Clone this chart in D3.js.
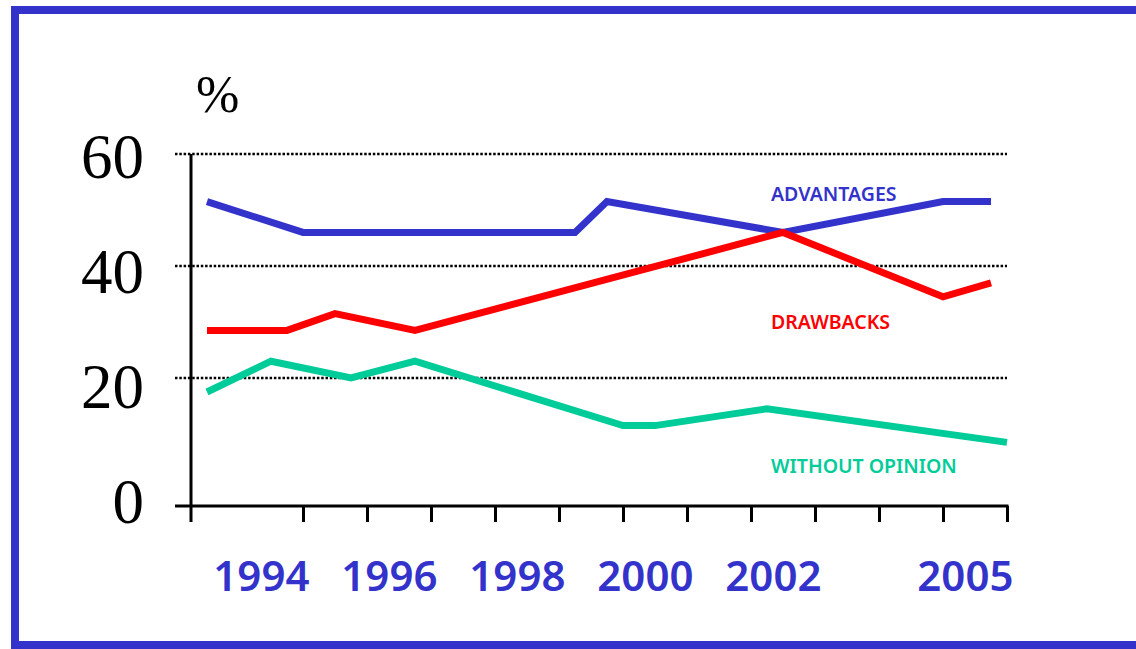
<!DOCTYPE html>
<html>
<head>
<meta charset="utf-8">
<script src="https://cdn.jsdelivr.net/npm/d3@7"></script>
<style>
  body { margin: 0; background: #fff; }
  svg { display: block; }
</style>
</head>
<body>
<svg width="1136" height="649"></svg>
<script>
// Survey dates (decimal years) and % values for each series
var advYears = [1993.25, 1994.75, 1999.0, 1999.5, 2002.25, 2004.75, 2005.5];
var advValues = [51.5, 46, 46, 51.5, 46, 51.5, 51.5];

var drwYears = [1993.25, 1994.5, 1995.25, 1996.5, 2002.25, 2004.75, 2005.5];
var drwValues = [28.5, 28.5, 31.5, 28.5, 46, 34.5, 37];

var wopYears = [1993.25, 1994.25, 1995.5, 1996.5, 1999.75, 2000.25, 2002.0, 2005.75];
var wopValues = [17.5, 23, 20, 23, 11.5, 11.5, 14.5, 8.5];

var yTicks = [0, 20, 40, 60];
var xLabels = ["1994", "1996", "1998", "2000", "2002", "2005"];
var xTickYears = [1994.75, 1995.75, 1996.75, 1997.75, 1998.75, 1999.75, 2000.75, 2001.75, 2002.75, 2003.75, 2004.75, 2005.75];

var svg = d3.select("svg");
var blue = "#3333cc", red = "#ff0000", green = "#00cc99";

// frame (right edge runs off the page)
svg.append("rect")
    .attr("x", 15).attr("y", 10)
    .attr("width", 1200).attr("height", 635)
    .attr("fill", "none")
    .attr("stroke", blue)
    .attr("stroke-width", 8);

var x = d3.scaleLinear().domain([1993, 2005.75]).range([191, 1007]);
var y = d3.scaleLinear().domain([0, 60]).range([490, 154]);
// tick labels in the original sit a bit apart from the gridlines
var yLab = d3.scaleLinear().domain([0, 60]).range([523, 178]);
var axisY = 506;

// dotted gridlines
svg.append("g").selectAll("line")
    .data(yTicks.filter(function(d) { return d > 0; }))
    .enter().append("line")
    .attr("x1", 175).attr("x2", 1007)
    .attr("y1", function(d) { return y(d); })
    .attr("y2", function(d) { return y(d); })
    .attr("stroke", "#000")
    .attr("stroke-width", 2.5)
    .attr("stroke-dasharray", "2.5,1.8");

// y axis line
svg.append("line")
    .attr("x1", 191).attr("x2", 191)
    .attr("y1", y(60)).attr("y2", axisY + 16)
    .attr("stroke", "#000").attr("stroke-width", 3);

// x axis
var xAxis = d3.axisBottom(x)
    .tickValues(xTickYears)
    .tickSize(16)
    .tickFormat("");

var gx = svg.append("g")
    .attr("transform", "translate(0," + axisY + ")")
    .call(xAxis);
gx.select(".domain").remove();
gx.selectAll(".tick line").attr("stroke", "#000").attr("stroke-width", 3);
gx.append("line")
    .attr("x1", 175).attr("x2", 1008.5)
    .attr("stroke", "#000").attr("stroke-width", 3);

// y tick labels
svg.append("g").selectAll("text")
    .data(yTicks)
    .enter().append("text")
    .attr("x", 144)
    .attr("y", function(d) { return yLab(d); })
    .attr("text-anchor", "end")
    .attr("font-family", "'Liberation Serif', 'Times New Roman', serif")
    .attr("font-size", 63)
    .attr("fill", "#000")
    .text(function(d) { return d; });

svg.append("text")
    .attr("x", 196).attr("y", 112)
    .attr("font-family", "'Liberation Serif', 'Times New Roman', serif")
    .attr("font-size", 52)
    .text("%");

// x labels
svg.append("g").selectAll("text")
    .data(xLabels)
    .enter().append("text")
    .attr("x", function(d) { return x(+d + 0.1); })
    .attr("y", 591)
    .attr("text-anchor", "middle")
    .attr("font-family", "'Noto Sans', 'Open Sans', sans-serif")
    .attr("font-weight", 600)
    .attr("font-size", 42)
    .attr("fill", blue)
    .text(function(d) { return d; });

// series lines
var line = d3.line()
    .x(function(d) { return x(d[0]); })
    .y(function(d) { return y(d[1]); });

var series = [
    { name: "ADVANTAGES", years: advYears, values: advValues, color: blue, ly: 201 },
    { name: "DRAWBACKS", years: drwYears, values: drwValues, color: red, ly: 329 },
    { name: "WITHOUT OPINION", years: wopYears, values: wopValues, color: green, ly: 473 }
];

series.forEach(function(s) {
    var pts = d3.zip(s.years, s.values);
    svg.append("path")
        .datum(pts)
        .attr("d", line)
        .attr("fill", "none")
        .attr("stroke", s.color)
        .attr("stroke-width", 7)
        .attr("stroke-linejoin", "miter")
        .attr("stroke-linecap", "butt");

    svg.append("text")
        .attr("x", 771).attr("y", s.ly)
        .attr("font-family", "'Noto Sans', 'Open Sans', sans-serif")
        .attr("font-weight", 600)
        .attr("font-size", 19.5)
        .attr("fill", s.color)
        .text(s.name);
});
</script>
</body>
</html>
